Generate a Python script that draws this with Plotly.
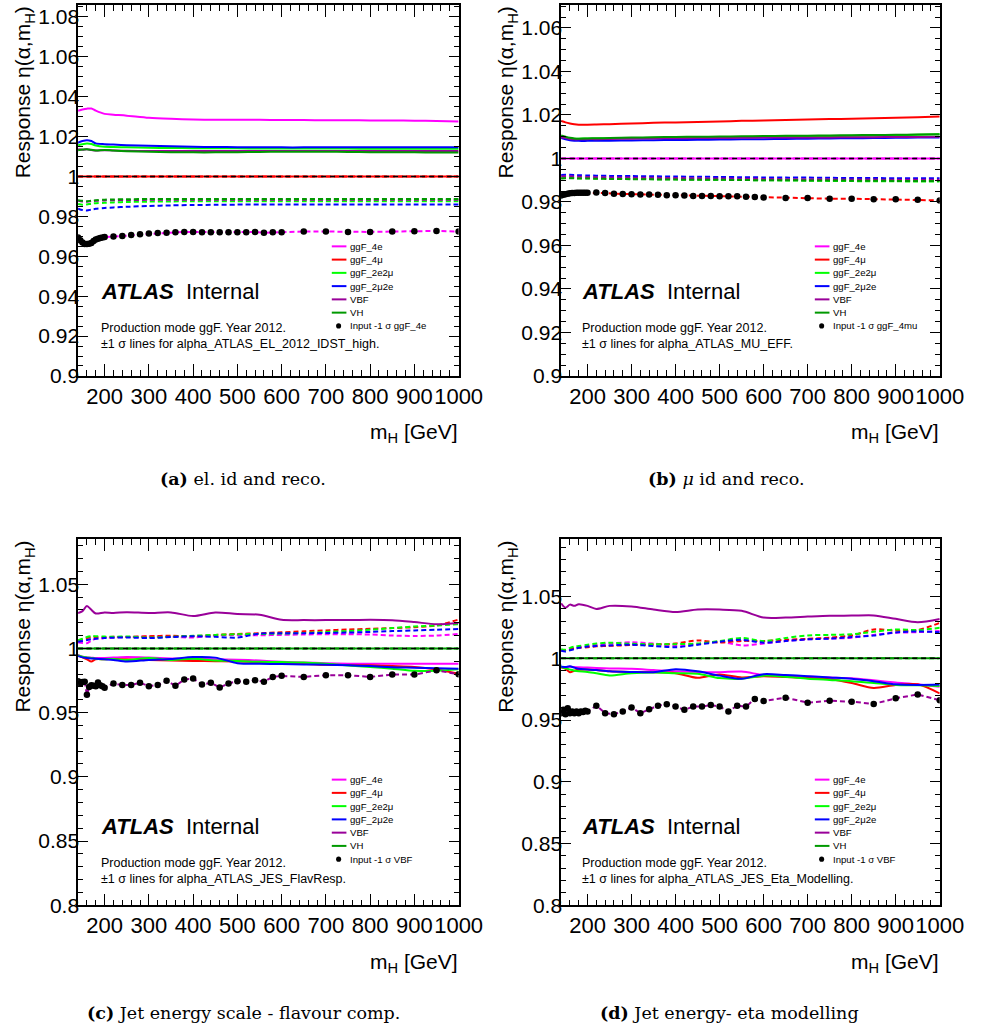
import plotly.graph_objects as go

W, H = 993, 1034
SANS = "Liberation Sans, Arial, sans-serif"
SERIF = "DejaVu Serif, serif"

# ---------------------------------------------------------------- data
MH_CURVE = [140, 150, 160, 170, 180, 200, 220, 250, 300, 350, 400, 450,
            500, 550, 600, 650, 700, 750, 800, 850, 900, 950, 1000]
MH_INPUT = [140, 145, 150, 155, 160, 165, 170, 175, 180, 185, 190, 195, 200,
            220, 240, 260, 280, 300, 320, 340, 360, 380, 400, 420, 440, 460,
            480, 500, 520, 540, 560, 580,
            600, 650, 700, 750, 800, 850, 900, 950, 1000]

SAMPLES = ["ggF_4e", "ggF_4mu", "ggF_2e2mu", "ggF_2mu2e", "VBF", "VH"]
SAMPLE_LABELS = ["ggF_4e", "ggF_4μ", "ggF_2e2μ", "ggF_2μ2e", "VBF", "VH"]
COLORS = {"ggF_4e": "#ff00ff", "ggF_4mu": "#ff0000", "ggF_2e2mu": "#00ff00",
          "ggF_2mu2e": "#0000ff", "VBF": "#990099", "VH": "#009900"}

X_TICKS = [200, 300, 400, 500, 600, 700, 800, 900, 1000]
X_TICK_TEXT = ["200", "300", "400", "500", "600", "700", "800", "900", "1000"]
Y_TICKS_FINE = [0.9, 0.92, 0.94, 0.96, 0.98, 1.0, 1.02, 1.04, 1.06, 1.08]
Y_TICK_TEXT_FINE = ["0.9", "0.92", "0.94", "0.96", "0.98", "1", "1.02", "1.04", "1.06", "1.08"]
Y_TICKS_WIDE = [0.8, 0.85, 0.9, 0.95, 1.0, 1.05]
Y_TICK_TEXT_WIDE = ["0.8", "0.85", "0.9", "0.95", "1", "1.05"]

# (a) electron id / reco
EL_UP = {
    "ggF_4e":    [1.0330, 1.0336, 1.0340, 1.0341, 1.0330, 1.0314, 1.0310, 1.0305, 1.0294, 1.0289, 1.0286, 1.0284,
                  1.0284, 1.0284, 1.0283, 1.0283, 1.0282, 1.0282, 1.0281, 1.0281, 1.0280, 1.0278, 1.0276],
    "ggF_4mu":   [1.0, 1.0, 1.0, 1.0, 1.0, 1.0, 1.0, 1.0, 1.0, 1.0, 1.0, 1.0,
                  1.0, 1.0, 1.0, 1.0, 1.0, 1.0, 1.0, 1.0, 1.0, 1.0, 1.0],
    "ggF_2e2mu": [1.0157, 1.0162, 1.0165, 1.0163, 1.0155, 1.0149, 1.0148, 1.0146, 1.0144, 1.0143, 1.0142, 1.0141,
                  1.0141, 1.0140, 1.0140, 1.0140, 1.0140, 1.0140, 1.0139, 1.0139, 1.0139, 1.0139, 1.0139],
    "ggF_2mu2e": [1.0170, 1.0178, 1.0182, 1.0178, 1.0166, 1.0162, 1.0160, 1.0157, 1.0154, 1.0151, 1.0149, 1.0148,
                  1.0147, 1.0147, 1.0146, 1.0146, 1.0146, 1.0146, 1.0146, 1.0146, 1.0146, 1.0146, 1.0146],
    "VBF":       [1.0136, 1.0134, 1.0136, 1.0133, 1.0130, 1.0132, 1.0130, 1.0129, 1.0128, 1.0128, 1.0128, 1.0128,
                  1.0128, 1.0128, 1.0128, 1.0128, 1.0128, 1.0128, 1.0128, 1.0128, 1.0128, 1.0128, 1.0128],
    "VH":        [1.0132, 1.0135, 1.0137, 1.0134, 1.0130, 1.0133, 1.0130, 1.0127, 1.0124, 1.0122, 1.0121, 1.0121,
                  1.0122, 1.0123, 1.0124, 1.0124, 1.0124, 1.0123, 1.0122, 1.0121, 1.0121, 1.0120, 1.0120],
}
EL_DOWN = {
    "ggF_4mu":   [1.0, 1.0, 1.0, 1.0, 1.0, 1.0, 1.0, 1.0, 1.0, 1.0, 1.0, 1.0,
                  1.0, 1.0, 1.0, 1.0, 1.0, 1.0, 1.0, 1.0, 1.0, 1.0, 1.0],
    "ggF_2e2mu": [0.9862, 0.9858, 0.9860, 0.9864, 0.9866, 0.9868, 0.9870, 0.9872, 0.9874, 0.9875, 0.9876, 0.9876,
                  0.9876, 0.9876, 0.9876, 0.9876, 0.9876, 0.9876, 0.9876, 0.9876, 0.9876, 0.9876, 0.9876],
    "ggF_2mu2e": [0.9839, 0.9832, 0.9830, 0.9834, 0.9838, 0.9842, 0.9845, 0.9848, 0.9852, 0.9855, 0.9857, 0.9858,
                  0.9859, 0.9859, 0.9859, 0.9859, 0.9859, 0.9859, 0.9859, 0.9859, 0.9859, 0.9859, 0.9859],
    "VBF":       [0.9878, 0.9875, 0.9874, 0.9876, 0.9878, 0.9880, 0.9881, 0.9882, 0.9883, 0.9883, 0.9883, 0.9883,
                  0.9883, 0.9883, 0.9883, 0.9883, 0.9883, 0.9883, 0.9883, 0.9883, 0.9883, 0.9883, 0.9883],
    "VH":        [0.9881, 0.9878, 0.9876, 0.9879, 0.9881, 0.9884, 0.9885, 0.9886, 0.9887, 0.9887, 0.9887, 0.9887,
                  0.9887, 0.9887, 0.9887, 0.9887, 0.9887, 0.9887, 0.9887, 0.9887, 0.9887, 0.9887, 0.9887],
}
EL_INPUT = [0.9694, 0.9680, 0.9669, 0.9661, 0.9662, 0.9663, 0.9667, 0.9677, 0.9684, 0.9688, 0.9692, 0.9694, 0.9697,
            0.9699, 0.9702, 0.9707, 0.9711, 0.9714, 0.9717, 0.9718, 0.9720, 0.9722, 0.9722, 0.9720, 0.9720, 0.9720,
            0.9720, 0.9720, 0.9720, 0.9722, 0.9718, 0.9720,
            0.9720, 0.9724, 0.9724, 0.9722, 0.9722, 0.9724, 0.9725, 0.9727, 0.9724]

# (b) muon id / reco
MU_UP = {
    "ggF_4e":    [1.0, 1.0, 1.0, 1.0, 1.0, 1.0, 1.0, 1.0, 1.0, 1.0, 1.0, 1.0,
                  1.0, 1.0, 1.0, 1.0, 1.0, 1.0, 1.0, 1.0, 1.0, 1.0, 1.0],
    "ggF_4mu":   [1.0172, 1.0166, 1.0161, 1.0157, 1.0155, 1.0155, 1.0156, 1.0158, 1.0161, 1.0164, 1.0166, 1.0168,
                  1.0170, 1.0173, 1.0175, 1.0177, 1.0179, 1.0181, 1.0183, 1.0185, 1.0187, 1.0190, 1.0193],
    "ggF_2e2mu": [1.0102, 1.0097, 1.0093, 1.0091, 1.0091, 1.0092, 1.0092, 1.0093, 1.0094, 1.0095, 1.0096, 1.0097,
                  1.0098, 1.0099, 1.0100, 1.0101, 1.0102, 1.0103, 1.0104, 1.0105, 1.0107, 1.0109, 1.0111],
    "ggF_2mu2e": [1.0094, 1.0088, 1.0084, 1.0082, 1.0081, 1.0081, 1.0081, 1.0082, 1.0083, 1.0084, 1.0085, 1.0086,
                  1.0087, 1.0088, 1.0089, 1.0090, 1.0091, 1.0092, 1.0093, 1.0094, 1.0095, 1.0096, 1.0097],
    "VBF":       [1.0098, 1.0094, 1.0090, 1.0088, 1.0088, 1.0089, 1.0089, 1.0090, 1.0091, 1.0092, 1.0093, 1.0094,
                  1.0094, 1.0095, 1.0096, 1.0096, 1.0097, 1.0097, 1.0098, 1.0098, 1.0099, 1.0099, 1.0100],
    "VH":        [1.0106, 1.0100, 1.0095, 1.0092, 1.0091, 1.0092, 1.0093, 1.0094, 1.0096, 1.0098, 1.0099, 1.0100,
                  1.0101, 1.0102, 1.0103, 1.0104, 1.0105, 1.0106, 1.0107, 1.0108, 1.0109, 1.0110, 1.0111],
}
MU_DOWN = {
    "ggF_4e":    [1.0, 1.0, 1.0, 1.0, 1.0, 1.0, 1.0, 1.0, 1.0, 1.0, 1.0, 1.0,
                  1.0, 1.0, 1.0, 1.0, 1.0, 1.0, 1.0, 1.0, 1.0, 1.0, 1.0],
    "ggF_2e2mu": [0.9909, 0.9910, 0.9910, 0.9910, 0.9909, 0.9909, 0.9908, 0.9907, 0.9906, 0.9905, 0.9904, 0.9903,
                  0.9902, 0.9901, 0.9900, 0.9899, 0.9898, 0.9897, 0.9896, 0.9895, 0.9895, 0.9894, 0.9894],
    "ggF_2mu2e": [0.9924, 0.9925, 0.9925, 0.9924, 0.9923, 0.9922, 0.9921, 0.9920, 0.9919, 0.9918, 0.9917, 0.9916,
                  0.9915, 0.9914, 0.9913, 0.9912, 0.9912, 0.9911, 0.9910, 0.9910, 0.9909, 0.9909, 0.9909],
    "VBF":       [0.9917, 0.9918, 0.9918, 0.9917, 0.9916, 0.9915, 0.9914, 0.9913, 0.9912, 0.9911, 0.9910, 0.9909,
                  0.9908, 0.9907, 0.9906, 0.9905, 0.9905, 0.9904, 0.9903, 0.9903, 0.9902, 0.9902, 0.9902],
    "VH":        [0.9908, 0.9909, 0.9909, 0.9909, 0.9908, 0.9908, 0.9907, 0.9906, 0.9905, 0.9904, 0.9903, 0.9902,
                  0.9902, 0.9901, 0.9900, 0.9900, 0.9899, 0.9899, 0.9898, 0.9898, 0.9897, 0.9897, 0.9897],
}
MU_INPUT = [0.9830, 0.9833, 0.9836, 0.9838, 0.9840, 0.9841, 0.9841, 0.9842, 0.9842, 0.9843, 0.9843, 0.9843, 0.9843,
            0.9844, 0.9841, 0.9838, 0.9837, 0.9835, 0.9834, 0.9834, 0.9833, 0.9831, 0.9831, 0.9830, 0.9828, 0.9828,
            0.9828, 0.9826, 0.9826, 0.9826, 0.9824, 0.9823,
            0.9821, 0.9818, 0.9818, 0.9815, 0.9815, 0.9813, 0.9812, 0.9810, 0.9807]

# (c) jet energy scale, flavour response
FLAV_UP = {
    "ggF_4e":    [0.9949, 0.9935, 0.9930, 0.9928, 0.9925, 0.9926, 0.9928, 0.9932, 0.9928, 0.9922, 0.9918, 0.9916,
                  0.9912, 0.9905, 0.9896, 0.9890, 0.9885, 0.9881, 0.9880, 0.9880, 0.9880, 0.9880, 0.9880],
    "ggF_4mu":   [0.9944, 0.9930, 0.9915, 0.9898, 0.9915, 0.9915, 0.9918, 0.9915, 0.9910, 0.9905, 0.9902, 0.9900,
                  0.9898, 0.9892, 0.9888, 0.9880, 0.9872, 0.9870, 0.9868, 0.9862, 0.9855, 0.9835, 0.9803],
    "ggF_2e2mu": [0.9945, 0.9935, 0.9930, 0.9925, 0.9920, 0.9915, 0.9918, 0.9910, 0.9926, 0.9910, 0.9920, 0.9905,
                  0.9902, 0.9895, 0.9893, 0.9890, 0.9880, 0.9867, 0.9855, 0.9842, 0.9825, 0.9825, 0.9837],
    "ggF_2mu2e": [0.9940, 0.9930, 0.9925, 0.9922, 0.9920, 0.9915, 0.9910, 0.9898, 0.9910, 0.9918, 0.9932, 0.9928,
                  0.9885, 0.9880, 0.9878, 0.9875, 0.9872, 0.9868, 0.9862, 0.9854, 0.9850, 0.9845, 0.9841],
    "VBF":       [1.0276, 1.0290, 1.0330, 1.0300, 1.0272, 1.0280, 1.0276, 1.0282, 1.0276, 1.0280, 1.0252, 1.0280,
                  1.0268, 1.0262, 1.0222, 1.0220, 1.0220, 1.0221, 1.0222, 1.0219, 1.0205, 1.0188, 1.0198],
    "VH":        [1.0, 1.0, 1.0, 1.0, 1.0, 1.0, 1.0, 1.0, 1.0, 1.0, 1.0, 1.0,
                  1.0, 1.0, 1.0, 1.0, 1.0, 1.0, 1.0, 1.0, 1.0, 1.0, 1.0],
}
FLAV_DOWN = {
    "ggF_4e":    [1.0046, 1.0042, 1.0040, 1.0060, 1.0075, 1.0080, 1.0085, 1.0088, 1.0092, 1.0090, 1.0085, 1.0100,
                  1.0105, 1.0102, 1.0105, 1.0108, 1.0110, 1.0110, 1.0108, 1.0100, 1.0097, 1.0100, 1.0112],
    "ggF_4mu":   [1.0059, 1.0070, 1.0080, 1.0085, 1.0088, 1.0088, 1.0090, 1.0088, 1.0095, 1.0098, 1.0095, 1.0105,
                  1.0112, 1.0118, 1.0125, 1.0133, 1.0140, 1.0147, 1.0152, 1.0158, 1.0165, 1.0178, 1.0225],
    "ggF_2e2mu": [1.0063, 1.0075, 1.0088, 1.0095, 1.0095, 1.0092, 1.0090, 1.0093, 1.0085, 1.0090, 1.0098, 1.0105,
                  1.0110, 1.0112, 1.0115, 1.0120, 1.0127, 1.0135, 1.0145, 1.0158, 1.0170, 1.0178, 1.0189],
    "ggF_2mu2e": [1.0051, 1.0058, 1.0065, 1.0072, 1.0075, 1.0080, 1.0083, 1.0085, 1.0080, 1.0088, 1.0094, 1.0090,
                  1.0084, 1.0115, 1.0117, 1.0118, 1.0120, 1.0123, 1.0128, 1.0135, 1.0140, 1.0145, 1.0151],
    "VH":        [1.0, 1.0, 1.0, 1.0, 1.0, 1.0, 1.0, 1.0, 1.0, 1.0, 1.0, 1.0,
                  1.0, 1.0, 1.0, 1.0, 1.0, 1.0, 1.0, 1.0, 1.0, 1.0, 1.0],
}
FLAV_INPUT = [0.9745, 0.9725, 0.9738, 0.9740, 0.9638, 0.9700, 0.9712, 0.9710, 0.9706, 0.9735, 0.9712, 0.9705, 0.9694,
              0.9727, 0.9714, 0.9714, 0.9732, 0.9706, 0.9714, 0.9747, 0.9709, 0.9757, 0.9765, 0.9719, 0.9732, 0.9696,
              0.9727, 0.9745, 0.9740, 0.9752, 0.9740, 0.9778,
              0.9786, 0.9778, 0.9791, 0.9791, 0.9778, 0.9796, 0.9796, 0.9829, 0.9798]

# (d) jet energy scale, eta intercalibration modelling
ETA_UP = {
    "ggF_4e":    [0.9928, 0.9930, 0.9932, 0.9930, 0.9928, 0.9925, 0.9922, 0.9918, 0.9915, 0.9905, 0.9895, 0.9890,
                  0.9888, 0.9893, 0.9865, 0.9860, 0.9852, 0.9845, 0.9838, 0.9822, 0.9805, 0.9790, 0.9769],
    "ggF_4mu":   [0.9928, 0.9915, 0.9888, 0.9900, 0.9908, 0.9910, 0.9905, 0.9895, 0.9890, 0.9888, 0.9880, 0.9842,
                  0.9870, 0.9845, 0.9855, 0.9848, 0.9840, 0.9830, 0.9800, 0.9760, 0.9785, 0.9790, 0.9716],
    "ggF_2e2mu": [0.9928, 0.9920, 0.9910, 0.9900, 0.9895, 0.9890, 0.9880, 0.9862, 0.9880, 0.9885, 0.9880, 0.9875,
                  0.9840, 0.9835, 0.9860, 0.9850, 0.9835, 0.9825, 0.9815, 0.9800, 0.9785, 0.9782, 0.9775],
    "ggF_2mu2e": [0.9931, 0.9930, 0.9935, 0.9925, 0.9915, 0.9910, 0.9905, 0.9895, 0.9890, 0.9888, 0.9912, 0.9895,
                  0.9860, 0.9835, 0.9872, 0.9865, 0.9855, 0.9845, 0.9835, 0.9815, 0.9790, 0.9785, 0.9788],
    "VBF":       [1.0446, 1.0410, 1.0435, 1.0425, 1.0438, 1.0425, 1.0400, 1.0425, 1.0420, 1.0395, 1.0375, 1.0395,
                  1.0395, 1.0385, 1.0330, 1.0330, 1.0338, 1.0345, 1.0346, 1.0348, 1.0320, 1.0293, 1.0319],
    "VH":        [1.0, 1.0, 1.0, 1.0, 1.0, 1.0, 1.0, 1.0, 1.0, 1.0, 1.0, 1.0,
                  1.0, 1.0, 1.0, 1.0, 1.0, 1.0, 1.0, 1.0, 1.0, 1.0, 1.0],
}
ETA_DOWN = {
    "ggF_4e":    [1.0065, 1.0068, 1.0072, 1.0080, 1.0090, 1.0100, 1.0110, 1.0120, 1.0130, 1.0120, 1.0100, 1.0115,
                  1.0135, 1.0105, 1.0120, 1.0140, 1.0154, 1.0160, 1.0167, 1.0190, 1.0207, 1.0212, 1.0221],
    "ggF_4mu":   [1.0061, 1.0068, 1.0075, 1.0080, 1.0085, 1.0090, 1.0097, 1.0101, 1.0108, 1.0112, 1.0120, 1.0145,
                  1.0128, 1.0141, 1.0141, 1.0150, 1.0158, 1.0168, 1.0185, 1.0234, 1.0225, 1.0230, 1.0287],
    "ggF_2e2mu": [1.0074, 1.0070, 1.0085, 1.0095, 1.0100, 1.0110, 1.0120, 1.0127, 1.0118, 1.0114, 1.0115, 1.0120,
                  1.0140, 1.0165, 1.0140, 1.0165, 1.0186, 1.0190, 1.0195, 1.0215, 1.0234, 1.0229, 1.0247],
    "ggF_2mu2e": [1.0061, 1.0055, 1.0065, 1.0075, 1.0085, 1.0095, 1.0100, 1.0105, 1.0110, 1.0100, 1.0090, 1.0110,
                  1.0135, 1.0150, 1.0127, 1.0140, 1.0154, 1.0160, 1.0172, 1.0185, 1.0210, 1.0218, 1.0212],
    "VH":        [1.0, 1.0, 1.0, 1.0, 1.0, 1.0, 1.0, 1.0, 1.0, 1.0, 1.0, 1.0,
                  1.0, 1.0, 1.0, 1.0, 1.0, 1.0, 1.0, 1.0, 1.0, 1.0, 1.0],
}
ETA_INPUT = [0.9556, 0.9583, 0.9548, 0.9596, 0.9556, 0.9570, 0.9556, 0.9570, 0.9556, 0.9570, 0.9565, 0.9575, 0.9570,
             0.9617, 0.9556, 0.9548, 0.9570, 0.9602, 0.9556, 0.9588, 0.9617, 0.9628, 0.9609, 0.9583, 0.9609, 0.9609,
             0.9623, 0.9609, 0.9570, 0.9617, 0.9609, 0.9671,
             0.9655, 0.9681, 0.9641, 0.9657, 0.9649, 0.9631, 0.9676, 0.9708, 0.9660]

NOMINAL = 1.0

# ---------------------------------------------------------------- panels
PANELS = [
    dict(key="a", up=EL_UP, down=EL_DOWN, input_sample="ggF_4e", input=EL_INPUT,
         input_label="Input -1 σ ggF_4e", yrange=[0.9, 1.086],
         yticks=Y_TICKS_FINE, yticktext=Y_TICK_TEXT_FINE, yminor=0.005,
         box=(80, 470, 5, 380), legend_x=340, legend_y0=249,
         syst="±1 σ lines for alpha_ATLAS_EL_2012_IDST_high.",
         caption="<b>(a)</b> el. id and reco.", caption_x=249, caption_y=484),
    dict(key="b", up=MU_UP, down=MU_DOWN, input_sample="ggF_4mu", input=MU_INPUT,
         input_label="Input -1 σ ggF_4mu", yrange=[0.9, 1.0706],
         yticks=Y_TICKS_FINE[:-1], yticktext=Y_TICK_TEXT_FINE[:-1], yminor=0.005,
         box=(575, 963, 5, 380), legend_x=835, legend_y0=249,
         syst="±1 σ lines for alpha_ATLAS_MU_EFF.",
         caption="<b>(b)</b> <i>μ</i> id and reco.", caption_x=744, caption_y=484),
    dict(key="c", up=FLAV_UP, down=FLAV_DOWN, input_sample="VBF", input=FLAV_INPUT,
         input_label="Input -1 σ VBF", yrange=[0.8, 1.085],
         yticks=Y_TICKS_WIDE, yticktext=Y_TICK_TEXT_WIDE, yminor=0.01,
         box=(80, 470, 545, 915), legend_x=340, legend_y0=788,
         syst="±1 σ lines for alpha_ATLAS_JES_FlavResp.",
         caption="<b>(c)</b> Jet energy scale - flavour comp.", caption_x=250, caption_y=1024),
    dict(key="d", up=ETA_UP, down=ETA_DOWN, input_sample="VBF", input=ETA_INPUT,
         input_label="Input -1 σ VBF", yrange=[0.8, 1.0965],
         yticks=Y_TICKS_WIDE, yticktext=Y_TICK_TEXT_WIDE, yminor=0.01,
         box=(575, 963, 545, 915), legend_x=835, legend_y0=788,
         syst="±1 σ lines for alpha_ATLAS_JES_Eta_Modelling.",
         caption="<b>(d)</b> Jet energy- eta modelling", caption_x=748, caption_y=1024),
]


def px(x):
    return x / W


def py(y):
    return 1 - y / H


fig = go.Figure()
annotations = []
shapes = []

for i, p in enumerate(PANELS):
    n = "" if i == 0 else str(i + 1)
    xa, ya = "x" + n, "y" + n
    x0, x1, y0, y1 = p["box"]

    # +1 sigma (solid) and -1 sigma (dashed) response curves
    for s in SAMPLES:
        fig.add_trace(go.Scatter(
            x=MH_CURVE, y=p["up"][s], xaxis=xa, yaxis=ya, mode="lines",
            line=dict(color=COLORS[s], width=2, shape="spline", smoothing=0.8),
            showlegend=False, hoverinfo="skip"))
        if s in p["down"]:
            fig.add_trace(go.Scatter(
                x=MH_CURVE, y=p["down"][s], xaxis=xa, yaxis=ya, mode="lines",
                line=dict(color=COLORS[s], width=2, dash="5px,3px", shape="spline", smoothing=0.8),
                showlegend=False, hoverinfo="skip"))

    # -1 sigma of the input sample through the input points
    fig.add_trace(go.Scatter(
        x=MH_INPUT, y=p["input"], xaxis=xa, yaxis=ya, mode="lines",
        line=dict(color=COLORS[p["input_sample"]], width=2, dash="5px,3px"),
        showlegend=False, hoverinfo="skip"))
    fig.add_trace(go.Scatter(
        x=MH_INPUT, y=p["input"], xaxis=xa, yaxis=ya, mode="markers",
        marker=dict(color="black", size=6.5, line=dict(width=0)),
        showlegend=False, hoverinfo="skip"))

    # nominal reference
    fig.add_trace(go.Scatter(
        x=[MH_CURVE[0], MH_CURVE[-1]], y=[NOMINAL, NOMINAL], xaxis=xa, yaxis=ya, mode="lines",
        line=dict(color="black", width=1.5, dash="5px,4px"),
        showlegend=False, hoverinfo="skip"))

    xdom = [px(x0), px(x1)]
    ydom = [py(y1), py(y0)]
    fig.update_layout(**{
        "xaxis" + n: dict(
            domain=xdom, anchor=ya, range=[140, 1000],
            tickmode="array", tickvals=X_TICKS, ticktext=X_TICK_TEXT, tickangle=0,
            ticks="inside", ticklen=12, tickwidth=1, tickcolor="black",
            minor=dict(ticks="inside", ticklen=6, tickwidth=1, tickcolor="black",
                       tickmode="linear", tick0=0, dtick=20, showgrid=False),
            showline=True, linecolor="black", linewidth=1.5, mirror="ticks",
            showgrid=False, zeroline=False,
            tickfont=dict(family=SANS, size=22, color="black")),
        "yaxis" + n: dict(
            domain=ydom, anchor=xa, range=p["yrange"],
            tickmode="array", tickvals=p["yticks"], ticktext=p["yticktext"],
            ticks="inside", ticklen=10, tickwidth=1, tickcolor="black",
            minor=dict(ticks="inside", ticklen=5, tickwidth=1, tickcolor="black",
                       tickmode="linear", tick0=0.8, dtick=p["yminor"], showgrid=False),
            showline=True, linecolor="black", linewidth=1.5, mirror="ticks",
            showgrid=False, zeroline=False, ticklabelstandoff=-7,
            tickfont=dict(family=SANS, size=21, color="black")),
    })

    # axis titles
    annotations.append(dict(
        x=px(x0 - 55), y=py(y0 - 1), xref="paper", yref="paper",
        text="Response η(α,m<sub>H</sub>)", textangle=-90,
        xanchor="center", yanchor="top", showarrow=False,
        font=dict(family=SANS, size=21, color="black")))
    annotations.append(dict(
        x=px(x1 + 1), y=py(y1 + 58), xref="paper", yref="paper",
        text="m<sub>H</sub> [GeV]", xanchor="right", yanchor="middle", showarrow=False,
        font=dict(family=SANS, size=21, color="black")))

    # ATLAS label and description
    lx = x0 + 21 if x0 < 500 else x0 + 19
    atlas_y = y0 + 290
    annotations.append(dict(
        x=px(lx), y=py(atlas_y), xref="paper", yref="paper",
        text="<b><i>ATLAS</i></b>  Internal", xanchor="left", yanchor="middle", showarrow=False,
        font=dict(family=SANS, size=22, color="black")))
    annotations.append(dict(
        x=px(lx), y=py(atlas_y + 37), xref="paper", yref="paper",
        text="Production mode ggF. Year 2012.", xanchor="left", yanchor="middle", showarrow=False,
        font=dict(family=SANS, size=12.5, color="black")))
    annotations.append(dict(
        x=px(lx), y=py(atlas_y + 53), xref="paper", yref="paper",
        text=p["syst"], xanchor="left", yanchor="middle", showarrow=False,
        font=dict(family=SANS, size=12.5, color="black")))

    # legend
    for j, (s, lab) in enumerate(zip(SAMPLES, SAMPLE_LABELS)):
        yy = p["legend_y0"] + 13.4 * j
        shapes.append(dict(type="line", xref="paper", yref="paper",
                           x0=px(p["legend_x"]), x1=px(p["legend_x"] + 15),
                           y0=py(yy), y1=py(yy), line=dict(color=COLORS[s], width=2)))
        annotations.append(dict(
            x=px(p["legend_x"] + 17), y=py(yy), xref="paper", yref="paper",
            text=lab, xanchor="left", yanchor="middle", showarrow=False,
            font=dict(family=SANS, size=9.6, color="black")))
    yy = p["legend_y0"] + 13.4 * 6
    cx = p["legend_x"] + 7
    shapes.append(dict(type="circle", xref="paper", yref="paper",
                       x0=px(cx - 2.6), x1=px(cx + 2.6), y0=py(yy + 2.6), y1=py(yy - 2.6),
                       fillcolor="black", line=dict(width=0)))
    annotations.append(dict(
        x=px(p["legend_x"] + 17), y=py(yy), xref="paper", yref="paper",
        text=p["input_label"], xanchor="left", yanchor="middle", showarrow=False,
        font=dict(family=SANS, size=9.6, color="black")))

    # sub-figure caption
    annotations.append(dict(
        x=px(p["caption_x"]), y=py(p["caption_y"]), xref="paper", yref="paper",
        text=p["caption"], xanchor="center", yanchor="middle", showarrow=False,
        font=dict(family=SERIF, size=17.5, color="black")))

fig.update_layout(
    width=W, height=H, margin=dict(l=0, r=0, t=0, b=0),
    paper_bgcolor="white", plot_bgcolor="white",
    annotations=annotations, shapes=shapes, showlegend=False,
)

fig.write_html("out.html")
